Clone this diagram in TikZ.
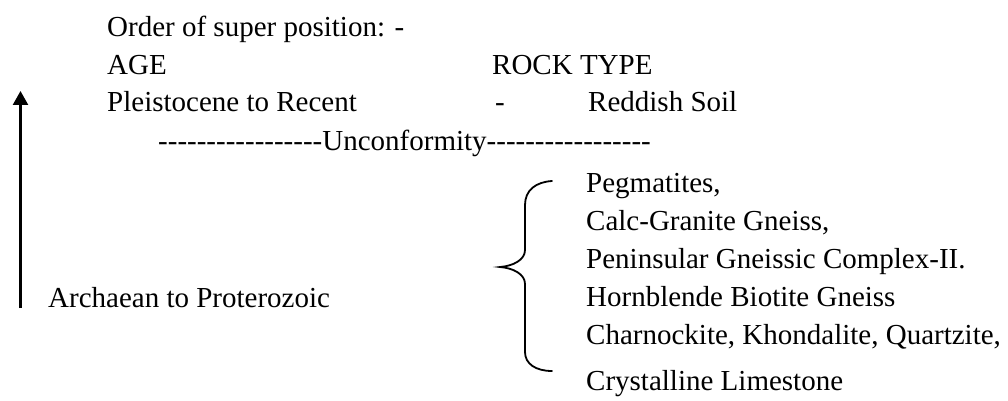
\documentclass[tikz,border=0pt]{standalone}
\usepackage{fontspec}
\setmainfont{Liberation Serif}[Ligatures=TeXOff]
\usetikzlibrary{arrows.meta}
\begin{document}
\begin{tikzpicture}[x=1pt,y=-1pt,
  txt/.style={anchor=base west,inner sep=0pt,font=\fontsize{29}{35}\selectfont},
  brace/.style={line width=1.8pt,line cap=round},
  uparrow/.style={line width=2.4pt,-{Triangle[length=14pt,width=15pt]}}]
\useasboundingbox (0,0) rectangle (1008,401);
\node[txt] (order) at (107,37) {Order of super position: -};
\node[txt] (age) at (107,75) {AGE};
\node[txt] (rock) at (492,75) {ROCK TYPE};
\node[txt] (pleist) at (107,112) {Pleistocene to Recent};
\node[txt] (dash) at (495,112) {-};
\node[txt] (soil) at (588,112) {Reddish Soil};
\node[txt] (unconf) at (158,150) {-----------------Unconformity-----------------};
\node[txt] (peg) at (586,192) {Pegmatites,};
\node[txt] (calc) at (586,230) {Calc-Granite Gneiss,};
\node[txt] (pen) at (586,268) {Peninsular Gneissic Complex-II.};
\node[txt] (horn) at (586,306) {Hornblende Biotite Gneiss};
\node[txt] (charn) at (586,344) {Charnockite, Khondalite, Quartzite,};
\node[txt] (cryst) at (586,390) {Crystalline Limestone};
\node[txt] (arch) at (48,307) {Archaean to Proterozoic};
\coordinate (abot) at (20.5,308);
\coordinate (atop) at (20.5,91);
\draw[uparrow] (abot) -- (atop);
\coordinate (btop) at (552,181);
\coordinate (btip) at (500,267);
\coordinate (bbot) at (552,371);
\draw[brace] (btop) .. controls (536,182) and (525,190) .. (525,205) -- (525,250)
  .. controls (525,260) and (513,266) .. (btip)
  .. controls (513,268) and (525,274) .. (525,284) -- (525,352)
  .. controls (525,364) and (536,371) .. (bbot);
\end{tikzpicture}
\end{document}
